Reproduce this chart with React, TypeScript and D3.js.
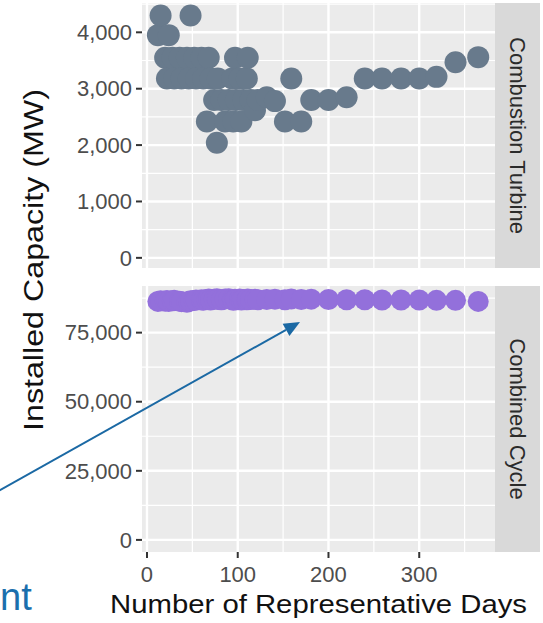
import React from 'react'
import * as d3 from 'd3'

// number of representative days tested (shared by both facets)
const days = [12, 15, 20, 22, 24, 28, 30, 36, 38, 44, 46, 48, 52, 54, 60, 62, 66, 68, 70, 74,
    77, 78, 82, 86, 90, 94, 95, 97, 98, 102, 104, 106, 110, 111, 114, 119, 122, 132, 141, 152,
    159, 170, 181, 200, 220, 240, 259, 280, 300, 319, 340, 365]

// installed capacity (MW) per run
const combustionTurbine = [3950, 4300, 3550, 3180, 3950, 3550, 3180, 3550, 3180, 3550, 3180, 4300,
    3550, 3180, 3550, 3180, 2420, 3550, 3180, 2800, 2040, 3180, 2800, 2420, 2800, 3180, 2420, 3550,
    2800, 3180, 2420, 2800, 3180, 3550, 2800, 2620, 2800, 2850, 2780, 2420, 3180, 2420, 2800, 2800,
    2850, 3180, 3180, 3180, 3180, 3210, 3470, 3560]

const combinedCycle = [86300, 86500, 86400, 86600, 86300, 86500, 86700, 86400, 86200, 86000, 86300,
    86500, 86600, 86800, 86900, 86700, 87000, 87200, 86800, 87100, 87300, 87000, 86900, 87200, 87300,
    87000, 86700, 87100, 86900, 87200, 86800, 87000, 86900, 87200, 87000, 87100, 86900, 87000, 87100,
    86900, 87200, 87000, 87100, 87000, 86900, 86900, 86800, 86800, 86800, 86700, 86700, 86300]

const facets = ['Combustion Turbine', 'Combined Cycle']
const xTicks = [0, 100, 200, 300]
const xMinor = [50, 150, 250, 350]
const ctTicks = [0, 1000, 2000, 3000, 4000]
const ctMinor = [500, 1500, 2500, 3500, 4500]
const ccTicks = [0, 25000, 50000, 75000]
const ccMinor = [12500, 37500, 62500, 87500]

const FONT = '"Liberation Sans", Arial, Helvetica, sans-serif'
const panelLeft = 142, panelRight = 495, stripRight = 540

const x = d3.scaleLinear().domain([-5.5, 383.5]).range([panelLeft, panelRight])
const fmt = d3.format(',')

const panels = [
    { label: facets[0], top: 3, bottom: 268, domain: [-180, 4520], ticks: ctTicks, minor: ctMinor,
      values: combustionTurbine, color: '#687a8c', r: 11 },
    { label: facets[1], top: 286, bottom: 552, domain: [-4375, 91875], ticks: ccTicks, minor: ccMinor,
      values: combinedCycle, color: '#9370db', r: 10.5 },
]

const Panel = ({p}) => {
    const y = d3.scaleLinear().domain(p.domain).range([p.bottom, p.top])
    const midY = (p.top + p.bottom) / 2
    return (
        <g>
            <rect x={panelLeft} y={p.top} width={panelRight - panelLeft} height={p.bottom - p.top} fill="#ebebeb" />
            {p.minor.map(t => <line key={'ym' + t} x1={panelLeft} x2={panelRight} y1={y(t)} y2={y(t)} stroke="#fff" strokeWidth={1.2} />)}
            {xMinor.map(t => <line key={'xm' + t} x1={x(t)} x2={x(t)} y1={p.top} y2={p.bottom} stroke="#fff" strokeWidth={1.2} />)}
            {p.ticks.map(t => <line key={'y' + t} x1={panelLeft} x2={panelRight} y1={y(t)} y2={y(t)} stroke="#fff" strokeWidth={2.4} />)}
            {xTicks.map(t => <line key={'x' + t} x1={x(t)} x2={x(t)} y1={p.top} y2={p.bottom} stroke="#fff" strokeWidth={2.4} />)}

            {days.map((d, i) =>
                <circle key={i} cx={x(d)} cy={y(p.values[i])} r={p.r} fill={p.color} />
            )}

            {p.ticks.map(t =>
                <g key={'yt' + t}>
                    <line x1={panelLeft - 6} x2={panelLeft} y1={y(t)} y2={y(t)} stroke="#333" strokeWidth={2} />
                    <text x={panelLeft - 10} y={y(t)} dy="0.35em" textAnchor="end" fill="#4d4d4d"
                          style={{fontSize: '22px', fontFamily: FONT}}>{fmt(t)}</text>
                </g>
            )}

            <rect x={panelRight} y={p.top} width={stripRight - panelRight} height={p.bottom - p.top} fill="#d9d9d9" />
            <text transform={`translate(${(panelRight + stripRight) / 2}, ${midY}) rotate(90)`}
                  textAnchor="middle" dy="0.35em" fill="#2b2b2b"
                  style={{fontSize: '22px', fontFamily: FONT}}>{p.label}</text>
        </g>
    )
}

const Arrow = ({from, to, color}) => {
    const ang = Math.atan2(to[1] - from[1], to[0] - from[0])
    const len = 16, half = 7
    const bx = to[0] - len * Math.cos(ang), by = to[1] - len * Math.sin(ang)
    const pts = [
        to,
        [bx + half * Math.sin(ang), by - half * Math.cos(ang)],
        [bx - half * Math.sin(ang), by + half * Math.cos(ang)],
    ]
    return (
        <g>
            <line x1={from[0]} y1={from[1]} x2={bx} y2={by} stroke={color} strokeWidth={2} />
            <polygon points={pts.map(q => q.join(',')).join(' ')} fill={color} />
        </g>
    )
}

export default function App() {
    const bottom = panels[1].bottom
    return (
        <svg width={543} height={623} style={{position: 'absolute', left: 0, top: 0, background: '#fff'}}>
            {panels.map(p => <Panel key={p.label} p={p} />)}

            {xTicks.map(t =>
                <g key={'xt' + t}>
                    <line x1={x(t)} x2={x(t)} y1={bottom} y2={bottom + 6} stroke="#333" strokeWidth={2} />
                    <text x={x(t)} y={bottom + 30} textAnchor="middle" fill="#4d4d4d"
                          style={{fontSize: '22px', fontFamily: FONT}}>{t}</text>
                </g>
            )}

            <text x={(panelLeft + panelRight) / 2} y={613} textAnchor="middle" fill="#111"
                  textLength={417} lengthAdjust="spacingAndGlyphs"
                  style={{fontSize: '25px', fontFamily: FONT}}>Number of Representative Days</text>
            <text transform="translate(43, 260) rotate(-90)" textAnchor="middle" fill="#111"
                  textLength={342} lengthAdjust="spacingAndGlyphs"
                  style={{fontSize: '27px', fontFamily: FONT}}>Installed Capacity (MW)</text>

            <Arrow from={[-5, 493]} to={[300, 322]} color="#1b69a4" />
            <text x={0} y={610} fill="#1b6fad" style={{fontSize: '38px', fontFamily: FONT}}>nt</text>
        </svg>
    )
}
